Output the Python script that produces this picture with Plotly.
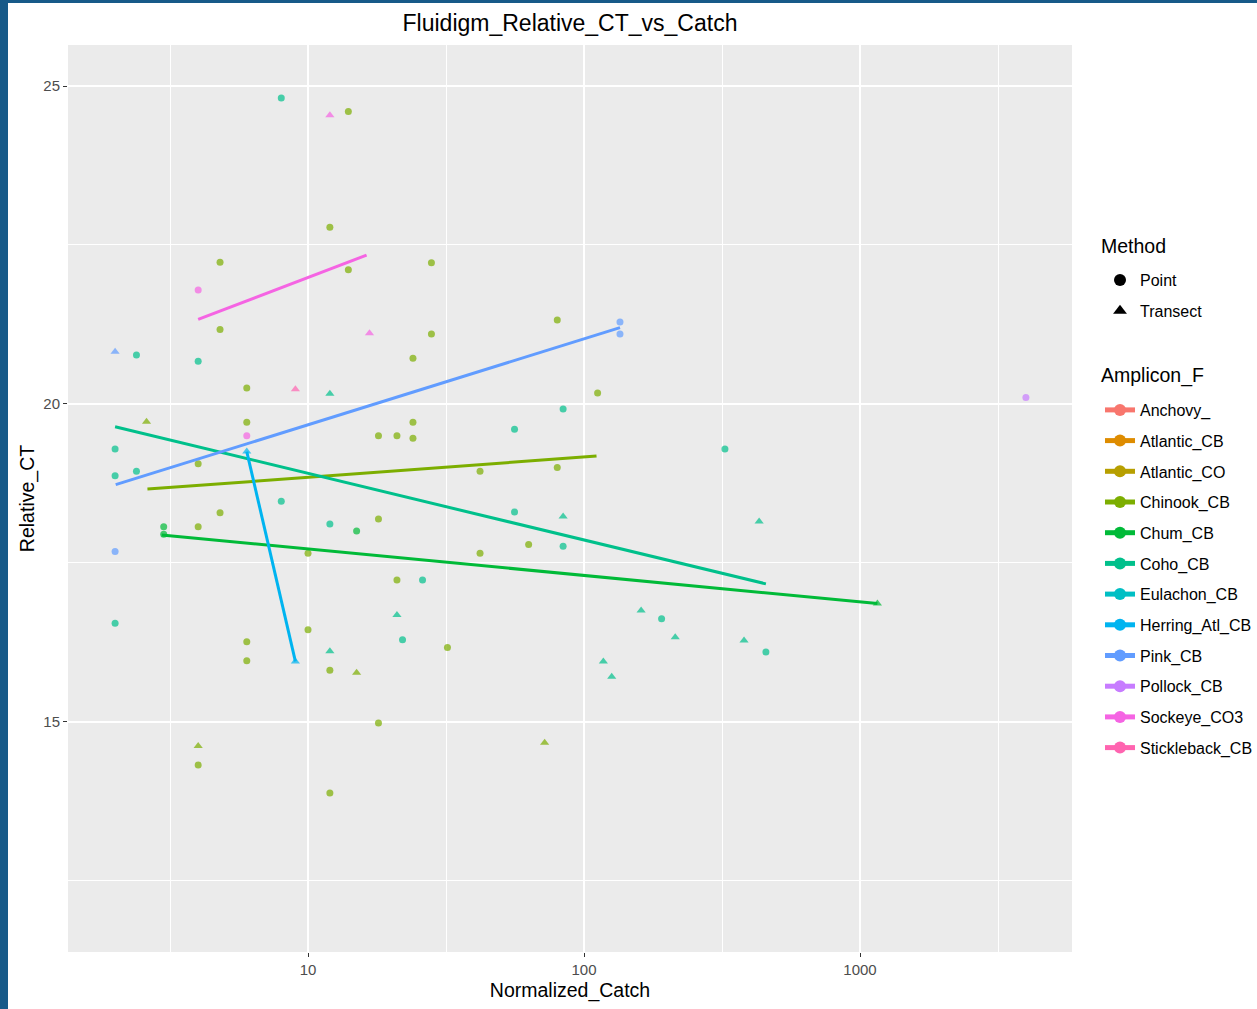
import plotly.graph_objects as go

# ---------------- data ----------------
amplicons = ["Anchovy_", "Atlantic_CB", "Atlantic_CO", "Chinook_CB", "Chum_CB", "Coho_CB",
             "Eulachon_CB", "Herring_Atl_CB", "Pink_CB", "Pollock_CB", "Sockeye_CO3", "Stickleback_CB"]
amplicon_colors = ["#F8766D", "#DE8C00", "#B79F00", "#7CAE00", "#00BA38", "#00C08B",
                   "#00BFC4", "#00B4F0", "#619CFF", "#C77CFF", "#F564E3", "#FF64B0"]
methods = ["Point", "Transect"]
method_symbols = ["circle", "triangle-up"]

chinook_catch = [14, 12, 4.8, 14, 28, 4.8, 28, 24, 80, 6, 112, 2.6, 6, 18, 21, 24, 24, 4, 42, 80,
                 4.8, 4, 18, 63, 10, 42, 21, 10, 6, 6, 32, 12, 15, 18, 4, 4, 12, 72]
chinook_ct = [24.60, 22.78, 22.23, 22.11, 22.22, 21.17, 21.10, 20.72, 21.32, 20.25, 20.17, 19.72,
              19.71, 19.50, 19.50, 19.71, 19.46, 19.06, 18.94, 19.00, 18.29, 18.07, 18.19, 17.79,
              17.65, 17.65, 17.23, 16.45, 16.26, 15.96, 16.17, 15.81, 15.77, 14.98, 14.62, 14.32,
              13.88, 14.67]
chinook_method = ["Point"] * 11 + ["Transect"] + ["Point"] * 20 + ["Transect", "Point", "Transect",
                                                                   "Point", "Point", "Transect"]

coho_catch = [8, 2.39, 4, 12, 2, 2, 2.39, 8, 12, 2, 12, 56, 84, 56, 84, 84, 26, 21, 22, 161, 191,
              214, 117.5, 126, 324, 431, 380, 456]
coho_ct = [24.81, 20.77, 20.67, 20.16, 19.29, 18.87, 18.94, 18.47, 18.11, 16.55, 16.11, 19.60,
           19.92, 18.30, 18.23, 17.76, 17.23, 16.68, 16.29, 16.75, 16.62, 16.33, 15.95, 15.71,
           19.29, 18.15, 16.28, 16.10]
coho_method = ["Point", "Point", "Point", "Transect", "Point", "Point", "Point", "Point", "Point",
               "Point", "Transect", "Point", "Point", "Point", "Transect", "Point", "Point",
               "Transect", "Point", "Transect", "Point", "Transect", "Transect", "Transect",
               "Point", "Transect", "Transect", "Point"]

chum_catch = [3, 3, 15, 1156]
chum_ct = [18.07, 17.95, 18.00, 16.86]
chum_method = ["Point", "Point", "Point", "Transect"]

pink_catch = [2, 2, 135, 135]
pink_ct = [20.82, 17.68, 21.29, 21.10]
pink_method = ["Transect", "Point", "Point", "Point"]

sockeye_catch = [12, 4, 16.7, 6]
sockeye_ct = [24.54, 21.79, 21.11, 19.50]
sockeye_method = ["Transect", "Point", "Transect", "Point"]

stickleback_catch = [9]
stickleback_ct = [20.23]
stickleback_method = ["Transect"]

herring_catch = [6, 9]
herring_ct = [19.25, 15.95]
herring_method = ["Transect", "Transect"]

pollock_catch = [3990]
pollock_ct = [20.10]
pollock_method = ["Point"]

# fitted (lm) line ends per amplicon: catch range and fitted Relative_CT at both ends
fit_amplicons = ["Chinook_CB", "Chum_CB", "Coho_CB", "Herring_Atl_CB", "Pink_CB", "Sockeye_CO3"]
fit_catch_start = [2.62, 2.95, 2.0, 6, 2.01, 4.0]
fit_catch_end = [111, 1156, 456, 9, 135, 16.3]
fit_ct_start = [18.66, 17.94, 19.64, 19.25, 18.73, 21.33]
fit_ct_end = [19.18, 16.86, 17.17, 15.95, 21.20, 22.34]

x_ticks = [10, 100, 1000]
y_ticks = [15, 20, 25]

# ---------------- figure ----------------
FONT = "Liberation Sans, Arial, Helvetica, sans-serif"
color_of = dict(zip(amplicons, amplicon_colors))
symbol_of = dict(zip(methods, method_symbols))

point_sets = [
    ("Chinook_CB", chinook_catch, chinook_ct, chinook_method),
    ("Coho_CB", coho_catch, coho_ct, coho_method),
    ("Chum_CB", chum_catch, chum_ct, chum_method),
    ("Pink_CB", pink_catch, pink_ct, pink_method),
    ("Sockeye_CO3", sockeye_catch, sockeye_ct, sockeye_method),
    ("Stickleback_CB", stickleback_catch, stickleback_ct, stickleback_method),
    ("Herring_Atl_CB", herring_catch, herring_ct, herring_method),
    ("Pollock_CB", pollock_catch, pollock_ct, pollock_method),
]

fig = go.Figure()

for name, xs, ys, ms in point_sets:
    fig.add_trace(go.Scatter(
        x=xs, y=ys, mode="markers", showlegend=False, hoverinfo="x+y+name", name=name,
        marker=dict(color=color_of[name], size=[7 if m == "Point" else 8 for m in ms],
                    symbol=[symbol_of[m] for m in ms], line=dict(width=0)),
    ))

for name, x0, x1, y0, y1 in zip(fit_amplicons, fit_catch_start, fit_catch_end, fit_ct_start, fit_ct_end):
    fig.add_trace(go.Scatter(
        x=[x0, x1], y=[y0, y1], mode="lines", showlegend=False, name=name,
        line=dict(color=color_of[name], width=3),
    ))

# legend: Method
for m, s in zip(methods, method_symbols):
    fig.add_trace(go.Scatter(
        x=[None], y=[None], mode="markers", name=m, legend="legend", legendgroup=m,
        marker=dict(color="black", symbol=s, size=8),
    ))

# legend: Amplicon_F
for a, c in zip(amplicons, amplicon_colors):
    fig.add_trace(go.Scatter(
        x=[None], y=[None], mode="lines+markers", name=a, legend="legend2", legendgroup=a,
        line=dict(color=c, width=3.5), marker=dict(color=c, size=7, symbol="circle"),
    ))

# plot area in pixels: x 68..1072, y 45..952
PW, PH = 1004.0, 907.0
def px_x(p):
    return (p - 68) / PW
def px_y(q):
    return (952 - q) / PH

shapes = [
    dict(type="rect", xref="paper", yref="paper", x0=px_x(-5), x1=px_x(8), y0=px_y(1015), y1=px_y(-5),
         fillcolor="#175a89", line=dict(width=0), layer="below"),
    dict(type="rect", xref="paper", yref="paper", x0=px_x(-5), x1=px_x(1262), y0=px_y(3), y1=px_y(-5),
         fillcolor="#175a89", line=dict(width=0), layer="below"),
]

annotations = [
    dict(text="Method", xref="paper", yref="paper", x=px_x(1099), y=px_y(246), xanchor="left",
         yanchor="middle", showarrow=False, font=dict(size=19.5, color="black", family=FONT)),
    dict(text="Amplicon_F", xref="paper", yref="paper", x=px_x(1099), y=px_y(375), xanchor="left",
         yanchor="middle", showarrow=False, font=dict(size=19.5, color="black", family=FONT)),
]

fig.update_layout(
    width=1257, height=1009,
    margin=dict(l=68, r=185, t=45, b=57),
    paper_bgcolor="white", plot_bgcolor="#EBEBEB",
    font=dict(family=FONT, color="#1A1A1A"),
    title=dict(text="Fluidigm_Relative_CT_vs_Catch", x=(570 / 1257), xanchor="center",
               y=1 - 23 / 1009, yanchor="middle", font=dict(size=23, color="black")),
    shapes=shapes,
    annotations=annotations,
    xaxis=dict(
        type="log", range=[0.1304, 3.768], tickvals=x_ticks, ticktext=[str(v) for v in x_ticks],
        showgrid=True, gridcolor="white", gridwidth=2, zeroline=False, showline=False,
        ticks="outside", ticklen=4, tickwidth=1, tickcolor="#333333",
        tickfont=dict(size=15, color="#4D4D4D"),
        minor=dict(tickvals=[10 ** 0.5, 10 ** 1.5, 10 ** 2.5, 10 ** 3.5], showgrid=True,
                   gridcolor="white", gridwidth=1, ticks=""),
        title=dict(text="Normalized_Catch", font=dict(size=19.5, color="black"), standoff=6),
    ),
    yaxis=dict(
        range=[11.38, 25.645], tickvals=y_ticks, ticktext=[str(v) for v in y_ticks],
        showgrid=True, gridcolor="white", gridwidth=2, zeroline=False, showline=False,
        ticks="outside", ticklen=4, tickwidth=1, tickcolor="#333333",
        tickfont=dict(size=15, color="#4D4D4D"),
        minor=dict(tickvals=[12.5, 17.5, 22.5], showgrid=True, gridcolor="white", gridwidth=1, ticks=""),
        title=dict(text="Relative_CT", font=dict(size=19.5, color="black"), standoff=3),
    ),
    legend=dict(
        xref="container", yref="container", x=1100 / 1257, y=1 - 263 / 1009,
        xanchor="left", yanchor="top", font=dict(size=16, color="black"),
        bgcolor="rgba(0,0,0,0)", tracegroupgap=7, itemsizing="constant",
    ),
    legend2=dict(
        xref="container", yref="container", x=1100 / 1257, y=1 - 393 / 1009,
        xanchor="left", yanchor="top", font=dict(size=16, color="black"),
        bgcolor="rgba(0,0,0,0)", tracegroupgap=6.9, itemsizing="constant",
    ),
)

fig.write_html("out.html")
